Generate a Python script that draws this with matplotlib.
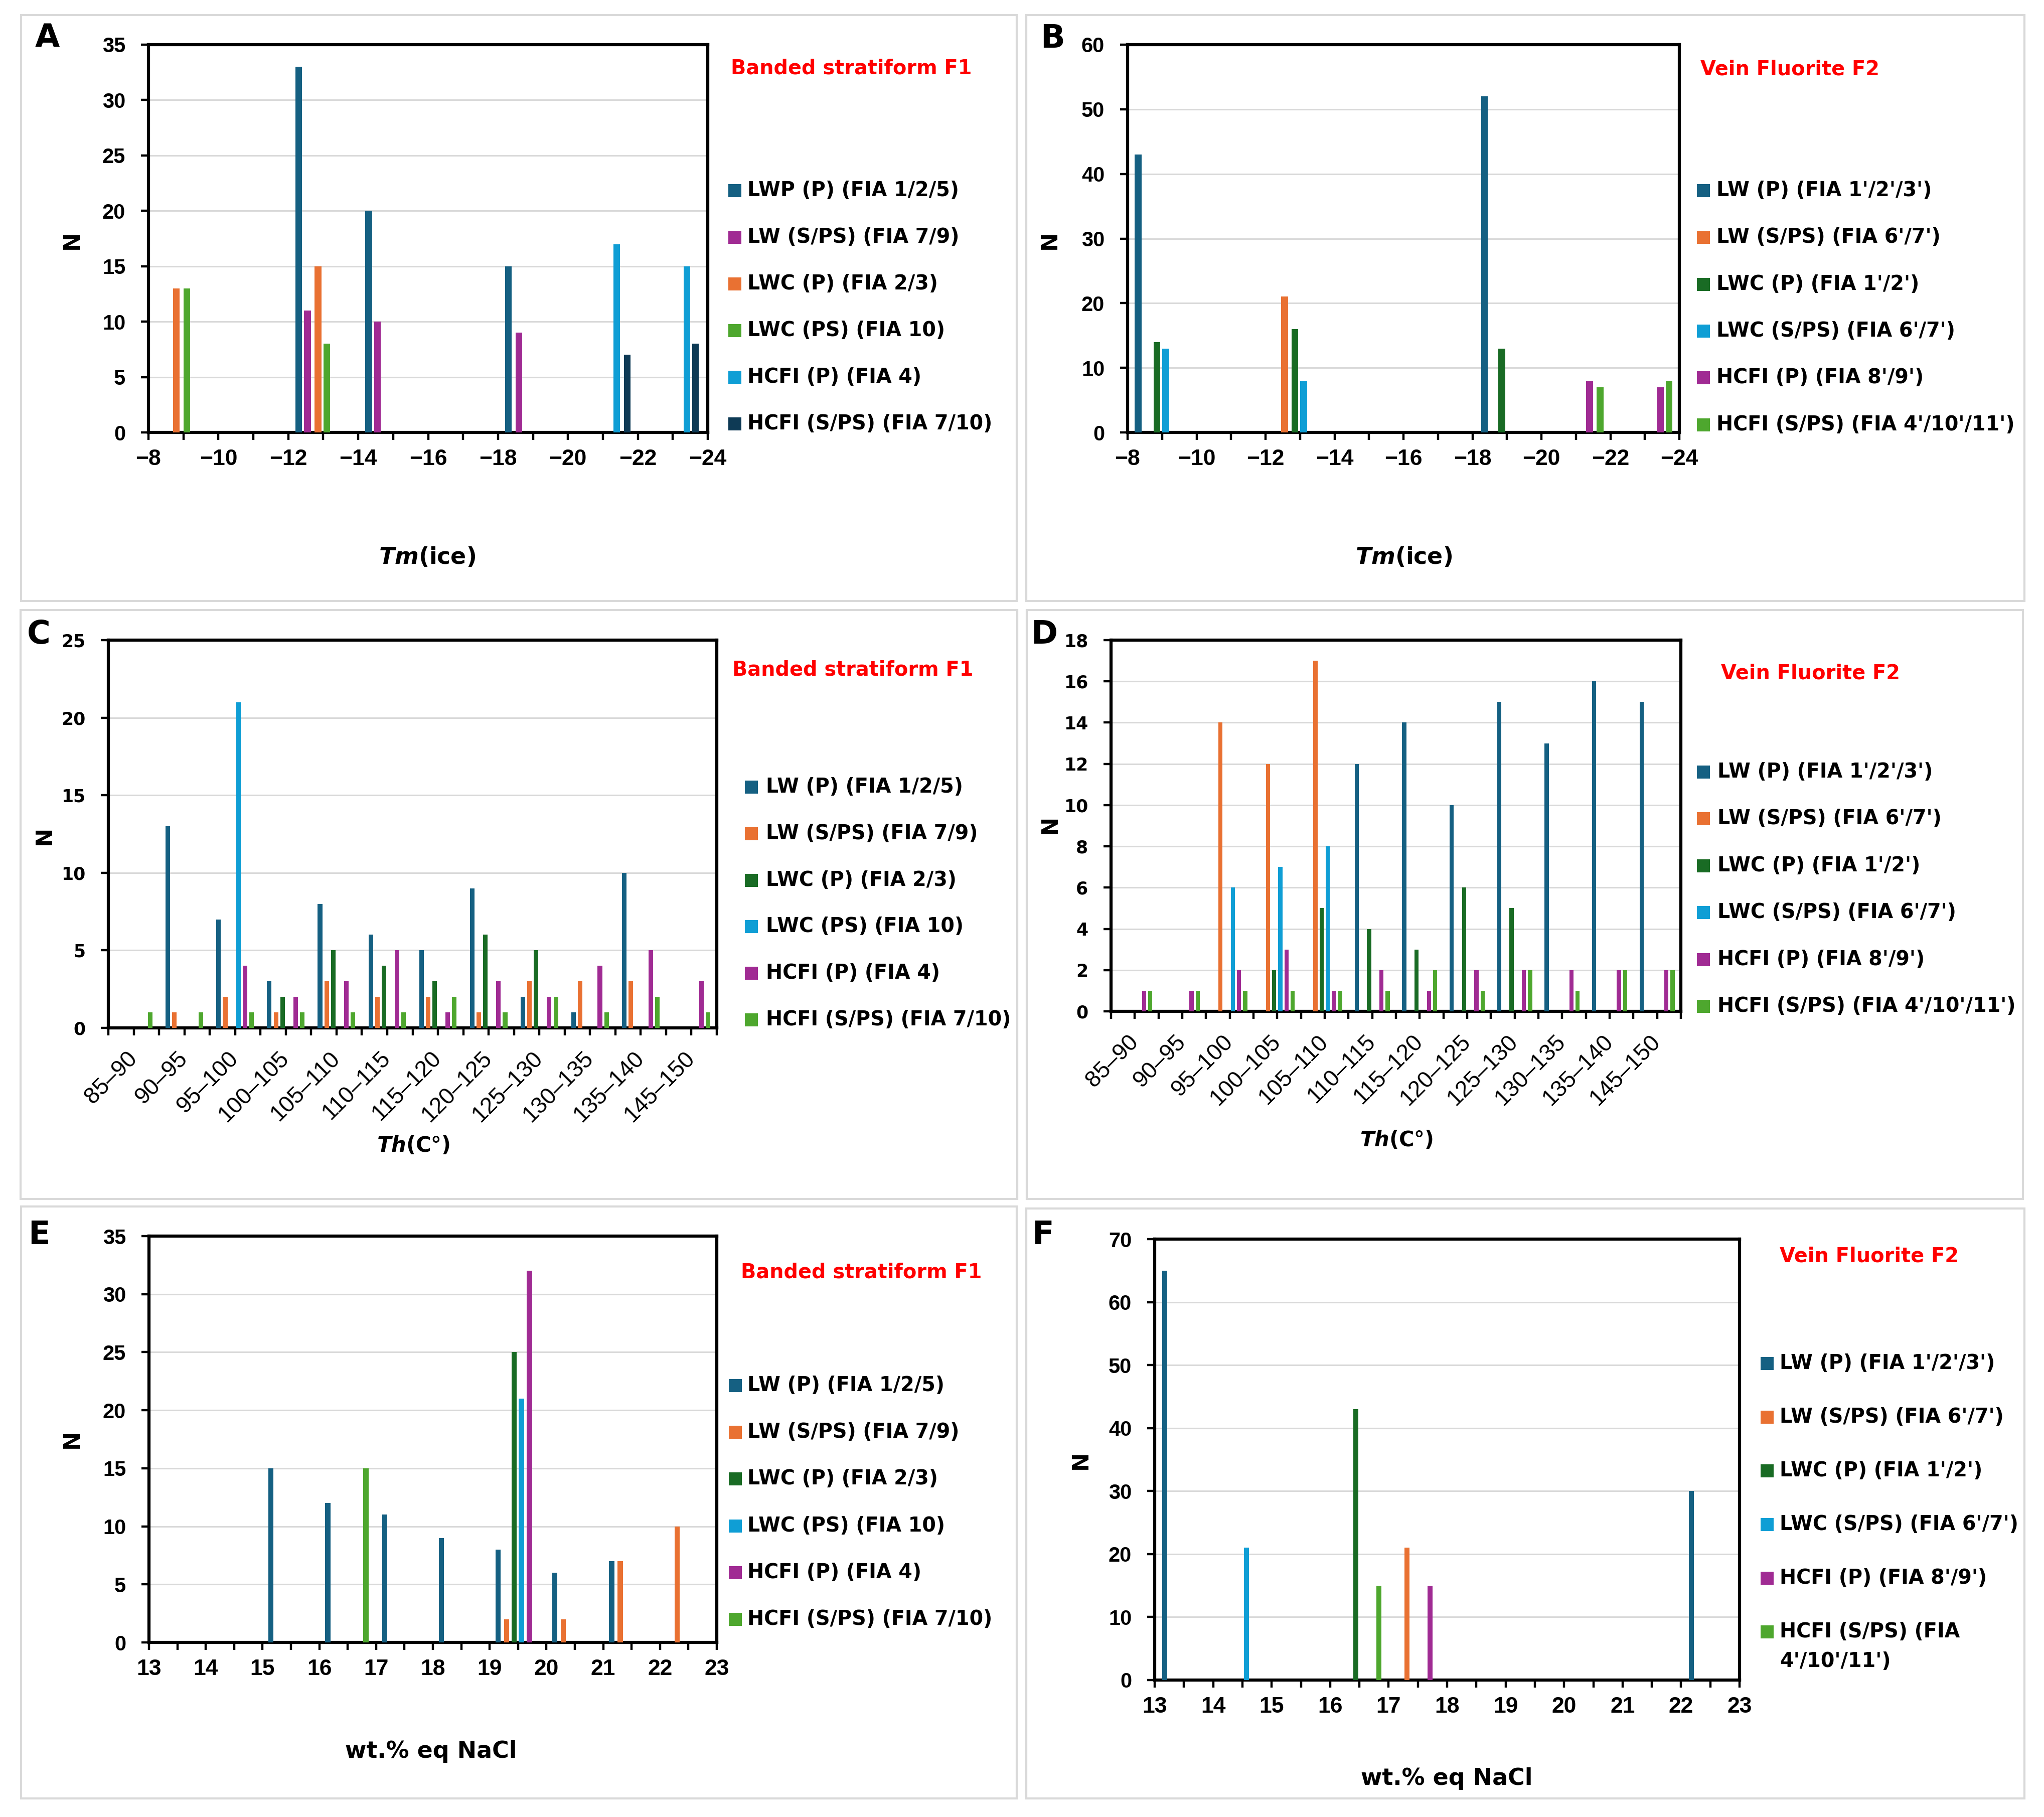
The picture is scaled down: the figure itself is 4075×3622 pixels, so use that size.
import numpy as np
import matplotlib
matplotlib.use('Agg')
import matplotlib.pyplot as plt
from matplotlib.patches import Rectangle

W, H = 4075, 3622
plt.rcParams['font.family'] = ['DejaVu Sans']
plt.rcParams['font.weight'] = 'bold'
plt.rcParams['mathtext.fontset'] = 'custom'
plt.rcParams['mathtext.it'] = 'DejaVu Sans:italic:bold'
plt.rcParams['mathtext.rm'] = 'DejaVu Sans:bold'
plt.rcParams['mathtext.bf'] = 'DejaVu Sans:bold'

NAVY = '#156082'; ORANGE = '#E97132'; DKGREEN = '#196B24'
LTBLUE = '#0F9ED5'; PURPLE = '#A02B93'; LTGREEN = '#4EA72E'; DARKNAVY = '#0E3A55'

# ---------------- DATA ----------------
f1_title = 'Banded stratiform F1'
f2_title = 'Vein Fluorite F2'

# Panel A : Tm(ice), F1
a_labels = ['LWP (P) (FIA 1/2/5)', 'LW (S/PS) (FIA 7/9)', 'LWC (P) (FIA 2/3)',
            'LWC (PS) (FIA 10)', 'HCFI (P) (FIA 4)', 'HCFI (S/PS) (FIA 7/10)']
a_tm = [[-12.3, -14.3, -18.3], [-12.55, -14.55, -18.6], [-8.8, -12.85],
        [-9.1, -13.1], [-21.4, -23.4], [-21.7, -23.65]]
a_n = [[33, 20, 15], [11, 10, 9], [13, 15], [13, 8], [17, 15], [7, 8]]

# Panel B : Tm(ice), F2
b_labels = ["LW (P) (FIA 1'/2'/3')", "LW (S/PS) (FIA 6'/7')", "LWC (P) (FIA 1'/2')",
            "LWC (S/PS) (FIA 6'/7')", "HCFI (P) (FIA 8'/9')", "HCFI (S/PS) (FIA 4'/10'/11')"]
b_tm = [[-8.3, -18.35], [-12.55], [-8.85, -12.85, -18.85], [-9.1, -13.1],
        [-21.4, -23.45], [-21.7, -23.7]]
b_n = [[43, 52], [21], [14, 16, 13], [13, 8], [8, 7], [7, 8]]

# Panels C/D : Th (C°) bins
th_bins = ['85–90', '90–95', '95–100', '100–105', '105–110', '110–115', '115–120',
           '120–125', '125–130', '130–135', '135–140', '145–150']
c_labels = ['LW (P) (FIA 1/2/5)', 'LW (S/PS) (FIA 7/9)', 'LWC (P) (FIA 2/3)',
            'LWC (PS) (FIA 10)', 'HCFI (P) (FIA 4)', 'HCFI (S/PS) (FIA 7/10)']
c_lw_p = [0, 13, 7, 3, 8, 6, 5, 9, 2, 1, 10, 0]
c_lw_sps = [0, 1, 2, 1, 3, 2, 2, 1, 3, 3, 3, 0]
c_lwc_p = [0, 0, 0, 2, 5, 4, 3, 6, 5, 0, 0, 0]
c_lwc_ps = [0, 0, 21, 0, 0, 0, 0, 0, 0, 0, 0, 0]
c_hcfi_p = [0, 0, 4, 2, 3, 5, 1, 3, 2, 4, 5, 3]
c_hcfi_sps = [1, 1, 1, 1, 1, 1, 2, 1, 2, 1, 2, 1]

d_labels = b_labels
d_lw_p = [0, 0, 0, 0, 0, 12, 14, 10, 15, 13, 16, 15]
d_lw_sps = [0, 0, 14, 12, 17, 0, 0, 0, 0, 0, 0, 0]
d_lwc_p = [0, 0, 0, 2, 5, 4, 3, 6, 5, 0, 0, 0]
d_lwc_sps = [0, 0, 6, 7, 8, 0, 0, 0, 0, 0, 0, 0]
d_hcfi_p = [1, 1, 2, 3, 1, 2, 1, 2, 2, 2, 2, 2]
d_hcfi_sps = [1, 1, 1, 1, 1, 1, 2, 1, 2, 1, 2, 2]

# Panel E : salinity, F1
e_labels = c_labels
e_sal = [[15.15, 16.15, 17.15, 18.15, 19.15, 20.15, 21.15], [19.3, 20.3, 21.3, 22.3],
         [19.43], [19.56], [19.7], [16.82]]
e_n = [[15, 12, 11, 9, 8, 6, 7], [2, 2, 7, 10], [25], [21], [32], [15]]

# Panel F : salinity, F2
f_labels = ["LW (P) (FIA 1'/2'/3')", "LW (S/PS) (FIA 6'/7')", "LWC (P) (FIA 1'/2')",
            "LWC (S/PS) (FIA 6'/7')", "HCFI (P) (FIA 8'/9')", "HCFI (S/PS) (FIA\n4'/10'/11')"]
f_sal = [[13.17, 22.18], [17.31], [16.44], [14.57], [17.71], [16.83]]
f_n = [[65, 30], [21], [43], [21], [15], [15]]

# ---------------- FIGURE ----------------
fig = plt.figure(figsize=(W / 100, H / 100), dpi=100)
fig.patch.set_facecolor('white')


def fx(x):
    return x / W


def fy(y):
    return 1 - y / H


def add_ax(l, t, r, b):
    return fig.add_axes([l / W, 1 - b / H, (r - l) / W, (b - t) / H])


def border(l, t, r, b):
    fig.add_artist(Rectangle((fx(l), fy(b)), (r - l) / W, (b - t) / H,
                             transform=fig.transFigure, fill=False,
                             edgecolor='#D9D9D9', lw=3, zorder=0))


def base_style(ax, ytop, ystep, yfont, ysize):
    ax.set_ylim(0, ytop)
    yt = np.arange(0, ytop + 0.1, ystep)
    ax.set_yticks(yt)
    ax.set_yticklabels([str(int(v)) for v in yt], fontfamily=yfont,
                       fontweight='bold', fontsize=ysize)
    ax.yaxis.grid(True, color='#D9D9D9', lw=2.2)
    ax.xaxis.grid(False)
    ax.set_axisbelow(True)
    for s in ax.spines.values():
        s.set_linewidth(4.5)
        s.set_color('black')
    ax.tick_params(axis='both', which='both', direction='out', length=11,
                   width=3.2, color='black', labelcolor='black')
    ax.tick_params(axis='y', pad=22)


def legend(labels, colors, sqx, tx, y0, dy, size=28.5, line2=59):
    for i, (lab, c) in enumerate(zip(labels, colors)):
        y = y0 + i * dy
        fig.add_artist(Rectangle((fx(sqx), fy(y + 13)), 26 / W, 26 / H,
                                 transform=fig.transFigure, color=c, lw=0))
        for k, part in enumerate(lab.split('\n')):
            fig.text(fx(tx), fy(y + k * line2), part, fontsize=size,
                     fontweight='bold', va='center', ha='left', color='black')


def annotate(letter, lpos, title, tpos, nlabel_pos, xlabel, xpos, xsize=33):
    fig.text(fx(lpos[0]), fy(lpos[1]), letter, fontsize=46, fontweight='bold',
             ha='center', va='center')
    fig.text(fx(tpos[0]), fy(tpos[1]), title, fontsize=28.7, fontweight='bold',
             color='#FF0000', ha='left', va='center')
    fig.text(fx(nlabel_pos[0]), fy(nlabel_pos[1]), 'N', fontsize=32,
             fontweight='bold', rotation=90, ha='center', va='center')
    fig.text(fx(xpos[0]), fy(xpos[1]), xlabel, fontsize=xsize, fontweight='bold',
             ha='center', va='center')


def tm_panel(ax, xs_list, ns_list, colors, width, ytop, ystep):
    for xs, ns, c in zip(xs_list, ns_list, colors):
        ax.bar(xs, ns, width=width, color=c, align='center', zorder=3)
    ax.set_xlim(-8, -24)
    major = np.arange(-8, -25, -2)
    ax.set_xticks(major)
    ax.set_xticklabels([str(int(v)).replace('-', '\u2212') for v in major],
                       fontfamily='Liberation Sans', fontweight='bold', fontsize=32)
    ax.set_xticks(np.arange(-9, -24, -2), minor=True)
    base_style(ax, ytop, ystep, 'Liberation Sans', 30)
    ax.tick_params(axis='x', pad=13)


def sal_panel(ax, xs_list, ns_list, colors, width, ytop, ystep):
    for xs, ns, c in zip(xs_list, ns_list, colors):
        ax.bar(xs, ns, width=width, color=c, align='center', zorder=3)
    ax.set_xlim(13, 23)
    major = np.arange(13, 24, 1)
    ax.set_xticks(major)
    ax.set_xticklabels([str(int(v)) for v in major],
                       fontfamily='Liberation Sans', fontweight='bold', fontsize=32)
    ax.set_xticks(np.arange(13.5, 23, 1), minor=True)
    base_style(ax, ytop, ystep, 'Liberation Sans', 30)
    ax.tick_params(axis='x', pad=13)


def th_panel(ax, series, colors, ytop, ystep):
    x = np.arange(len(th_bins))
    for i, (vals, c) in enumerate(zip(series, colors)):
        ax.bar(x + (i - 2.5) * 0.13, vals, width=0.09, color=c, zorder=3)
    ax.set_xlim(-0.5, len(th_bins) - 0.5)
    ax.set_xticks(x)
    ax.set_xticklabels(th_bins, rotation=45, ha='right', va='center',
                       rotation_mode='anchor', fontsize=33, fontweight='normal',
                       fontfamily='Liberation Sans')
    ax.set_xticks(np.arange(-0.5, len(th_bins), 1), minor=True)
    base_style(ax, ytop, ystep, 'DejaVu Sans', 25)
    ax.tick_params(axis='x', pad=28)


colsA = [NAVY, PURPLE, ORANGE, LTGREEN, LTBLUE, DARKNAVY]
cols = [NAVY, ORANGE, DKGREEN, LTBLUE, PURPLE, LTGREEN]

# borders
border(42, 30, 2027, 1198)
border(2046, 30, 4036, 1198)
border(41, 1216, 2028, 2390)
border(2047, 1216, 4033, 2390)
border(42, 2405, 2027, 3585)
border(2046, 2409, 4036, 3585)

# A
axA = add_ax(296, 89, 1411, 862)
tm_panel(axA, a_tm, a_n, colsA, 0.19, 35, 5)
annotate('A', (94, 77), f1_title, (1457, 137), (143, 478), r'$Tm$(ice)', (852, 1111))
legend(a_labels, colsA, 1452, 1490, 380, 93)

# B
axB = add_ax(2248, 89, 3348, 862)
tm_panel(axB, b_tm, b_n, cols, 0.2, 60, 10)
annotate('B', (2098, 77), f2_title, (3390, 139), (2092, 478), r'$Tm$(ice)', (2799, 1111))
legend(b_labels, cols, 3383, 3422, 380, 93.3)

# C
axC = add_ax(216, 1276, 1429, 2049)
th_panel(axC, [c_lw_p, c_lw_sps, c_lwc_p, c_lwc_ps, c_hcfi_p, c_hcfi_sps], cols, 25, 5)
annotate('C', (77, 1265), f1_title, (1460, 1335), (88, 1665), r'$Th$(C°)', (824, 2284), xsize=30)
legend(c_labels, cols, 1485, 1527, 1569, 92.8)

# D
axD = add_ax(2215, 1276, 3351, 2016)
th_panel(axD, [d_lw_p, d_lw_sps, d_lwc_p, d_lwc_sps, d_hcfi_p, d_hcfi_sps], cols, 18, 2)
annotate('D', (2082, 1265), f2_title, (3431, 1342), (2093, 1643), r'$Th$(C°)', (2784, 2273), xsize=30)
legend(d_labels, cols, 3383, 3424, 1539, 93.4)

# E
axE = add_ax(297, 2464, 1429, 3274)
sal_panel(axE, e_sal, e_n, cols, 0.09, 35, 5)
annotate('E', (78, 2462), f1_title, (1477, 2536), (143, 2868), 'wt.% eq NaCl', (859, 3491))
legend(e_labels, cols, 1453, 1490, 2762, 93.2)

# F
axF = add_ax(2302, 2470, 3468, 3349)
sal_panel(axF, f_sal, f_n, cols, 0.085, 70, 10)
annotate('F', (2079, 2462), f2_title, (3548, 2505), (2154, 2910), 'wt.% eq NaCl', (2884, 3546))
legend(f_labels, cols, 3510, 3548, 2718, 107)

fig.savefig('out.png', dpi=100, facecolor='white')
